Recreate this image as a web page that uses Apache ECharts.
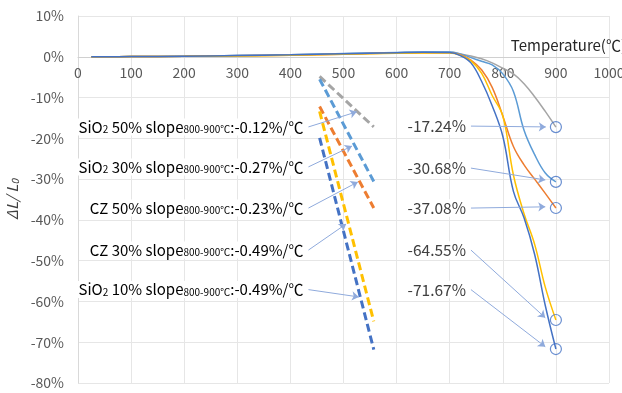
<!DOCTYPE html>
<html>
<head>
<meta charset="utf-8">
<script src="https://cdn.jsdelivr.net/npm/echarts@6/dist/echarts.min.js"></script>
<style>
html, body { margin: 0; padding: 0; background: #fff; }
#chart { width: 622px; height: 393px; }
</style>
</head>
<body>
<div id="chart"></div>
<script>
// temperature (℃) shared by all curves
var temps = [25, 100, 200, 300, 400, 500, 600, 650, 700, 720, 740, 760, 780, 800, 820, 840, 860, 880, 900]
// ΔL/L0 (%)
var sio2_50 = [0, 0.05, 0.15, 0.3, 0.5, 0.75, 1.0, 1.1, 1.1, 0.7, 0.2, -0.5, -1.5, -2.8, -4.2, -6.6, -9.8, -13.4, -17.24]
var sio2_30 = [0, 0.05, 0.15, 0.3, 0.5, 0.8, 1.05, 1.15, 1.15, 0.7, -0.2, -1.1, -2.0, -4.2, -8.5, -18.0, -24.0, -28.5, -30.68]
var cz_50 = [0, 0.05, 0.1, 0.25, 0.4, 0.65, 0.9, 1.0, 1.0, 0.5, -0.8, -3.2, -7.5, -14.5, -22.0, -26.5, -30.0, -33.5, -37.08]
var cz_30 = [0, 0.05, 0.1, 0.2, 0.35, 0.6, 0.85, 0.95, 0.95, 0.4, -1.0, -4.0, -9.5, -14.5, -29.0, -38.5, -46.0, -56.5, -64.55]
var sio2_10 = [0, 0.05, 0.15, 0.3, 0.5, 0.75, 1.0, 1.1, 1.05, 0.3, -1.5, -6.0, -12.0, -19.5, -33.0, -39.5, -48.5, -61.0, -71.67]

var seriesNames = ['SiO2 50%', 'SiO2 30%', 'CZ 50%', 'CZ 30%', 'SiO2 10%']
var colors = ['#A5A5A5', '#5B9BD5', '#ED7D31', '#FFC000', '#4472C4']
var curves = [sio2_50, sio2_30, cz_50, cz_30, sio2_10]

// dashed slope guide lines
var slopeStart = [455, 455, 455, 455, 455]
var slopeEnd = [557, 557, 557, 557, 557]
var slopeStartVal = [-4.8, -5.5, -12.2, -13.4, -19.9]
var slopeEndVal = [-17.2, -30.6, -37.1, -64.9, -71.8]

// annotation texts
var labelGroup = ['SiO', 'SiO', 'CZ', 'CZ', 'SiO']
var labelSub = ['2', '2', '', '', '2']
var labelPct = ['50%', '30%', '50%', '30%', '10%']
var slopes = ['-0.12', '-0.27', '-0.23', '-0.49', '-0.49']
var endLabels = ['-17.24%', '-30.68%', '-37.08%', '-64.55%', '-71.67%']
var endValues = [-17.24, -30.68, -37.08, -64.55, -71.67]

// arrow anchors in data space
var leftArrowFrom = [[434, -17.2], [434, -27.0], [434, -37.1], [434, -47.4], [434, -57.1]]
var leftArrowTo = [[525, -13.5], [516, -21.9], [527, -30.7], [505, -41.0], [529, -58.9]]
var rightArrowFrom = [[740, -17.0], [740, -27.3], [740, -37.1], [740, -47.4], [740, -57.1]]
var rightArrowTo = [[881, -17.2], [880, -30.2], [880, -36.8], [880, -64.0], [880, -71.1]]

var FONT = '"Noto Sans CJK KR", "Noto Sans", sans-serif'

var series = []
for (var i = 0; i < curves.length; i++) {
  series.push({
    name: seriesNames[i],
    type: 'line',
    smooth: 0.4,
    showSymbol: false,
    lineStyle: { color: colors[i], width: 1.5 },
    data: temps.map(function (t, k) { return [t, this[k]] }, curves[i]),
    z: 3
  })
  series.push({
    name: seriesNames[i] + ' slope',
    type: 'line',
    showSymbol: false,
    lineStyle: { color: colors[i], width: 3, type: [8, 4] },
    data: [[slopeStart[i], slopeStartVal[i]], [slopeEnd[i], slopeEndVal[i]]],
    z: 2
  })
}

var arrowData = []
for (var j = 0; j < 5; j++) {
  arrowData.push([{ coord: leftArrowFrom[j] }, { coord: leftArrowTo[j] }])
  arrowData.push([{ coord: rightArrowFrom[j] }, { coord: rightArrowTo[j] }])
}
series.push({
  name: 'arrows',
  type: 'line',
  data: [],
  markLine: {
    silent: true,
    symbol: ['none', 'arrow'],
    symbolSize: 7,
    label: { show: false },
    lineStyle: { color: '#8FAADC', width: 1, type: 'solid' },
    emphasis: { disabled: true },
    data: arrowData
  },
  z: 4
})
series.push({
  name: 'ends',
  type: 'scatter',
  symbol: 'circle',
  symbolSize: 11,
  itemStyle: { color: 'rgba(0,0,0,0)', borderColor: '#4472C4', borderWidth: 1.2 },
  data: endValues.map(function (v) { return [900, v] }),
  z: 5
})

var yMin = -80
var yMax = 10
var gridTop = 16
var gridBottom = 10
var plotH = 393 - gridTop - gridBottom
// second grid whose bottom edge sits on the 0% line, only used to carry the x tick labels
var zeroH = plotH * yMax / (yMax - yMin)

var option = {
  animation: false,
  textStyle: { fontFamily: FONT },
  grid: [
    { left: 78, right: 13, top: gridTop, bottom: gridBottom, outerBoundsMode: 'none', containLabel: false },
    { left: 78, right: 13, top: gridTop, height: zeroH, outerBoundsMode: 'none', containLabel: false }
  ],
  xAxis: [{
    type: 'value',
    gridIndex: 0,
    min: 0,
    max: 1000,
    interval: 100,
    axisLine: { show: false },
    axisTick: { show: false },
    axisLabel: { show: false },
    splitLine: { show: true, lineStyle: { color: '#E6E6E6' } }
  }, {
    type: 'value',
    gridIndex: 1,
    min: 0,
    max: 1000,
    interval: 100,
    position: 'bottom',
    name: 'Temperature(℃)',
    nameLocation: 'end',
    nameGap: 0,
    nameTextStyle: { color: '#262626', fontSize: 15, align: 'right', verticalAlign: 'bottom', padding: [0, -17, 4, 0], fontFamily: FONT },
    axisLine: { show: true, onZero: false, lineStyle: { color: '#D0D0D0' } },
    axisTick: { show: false },
    axisLabel: { color: '#595959', fontSize: 14, margin: 9, fontFamily: FONT, formatter: function (v) { return String(v) } },
    splitLine: { show: false }
  }],
  yAxis: [{
    type: 'value',
    gridIndex: 0,
    min: yMin,
    max: yMax,
    interval: 10,
    name: '{i|ΔL/ L}{s|0}',
    nameLocation: 'middle',
    nameGap: 50,
    nameRotate: 90,
    nameTextStyle: {
      rich: {
        i: { fontStyle: 'italic', fontSize: 15, color: '#404040', fontFamily: FONT },
        s: { fontStyle: 'italic', fontSize: 10, color: '#404040', verticalAlign: 'bottom', fontFamily: FONT }
      }
    },
    axisLine: { show: true, lineStyle: { color: '#D9D9D9' } },
    axisTick: { show: false },
    axisLabel: { color: '#595959', fontSize: 14, margin: 14, formatter: '{value}%', fontFamily: FONT },
    splitLine: { show: true, lineStyle: { color: '#E6E6E6' } }
  }, {
    type: 'value',
    gridIndex: 1,
    min: 0,
    max: yMax,
    show: false
  }],
  series: series
}

var chart = echarts.init(document.getElementById('chart'))
chart.setOption(option)

// place annotation texts next to the arrow tails
var rich = {
  n: { fontSize: 15, color: '#404040', fontFamily: FONT },
  s: { fontSize: 10, color: '#404040', fontFamily: FONT, verticalAlign: 'bottom', lineHeight: 12 }
}
var graphics = []
for (var k = 0; k < 5; k++) {
  var p = chart.convertToPixel({ gridIndex: 0 }, leftArrowFrom[k])
  var txt = '{n|' + labelGroup[k] + '}' + (labelSub[k] ? '{s|' + labelSub[k] + '}' : '') +
    '{n| ' + labelPct[k] + ' slope}{s|800-900℃}{n|:' + slopes[k] + '%/℃}'
  graphics.push({
    type: 'text',
    x: p[0] - 3,
    y: p[1],
    z: 10,
    style: { text: txt, rich: rich, align: 'right', verticalAlign: 'middle', backgroundColor: '#fff', padding: [1, 2] }
  })
  var q = chart.convertToPixel({ gridIndex: 0 }, rightArrowFrom[k])
  graphics.push({
    type: 'text',
    x: q[0] - 3,
    y: q[1],
    z: 10,
    style: { text: endLabels[k], fill: '#404040', fontSize: 15.5, fontFamily: FONT, align: 'right', verticalAlign: 'middle', backgroundColor: '#fff', padding: [1, 2] }
  })
}
chart.setOption({ graphic: graphics })
</script>
</body>
</html>
